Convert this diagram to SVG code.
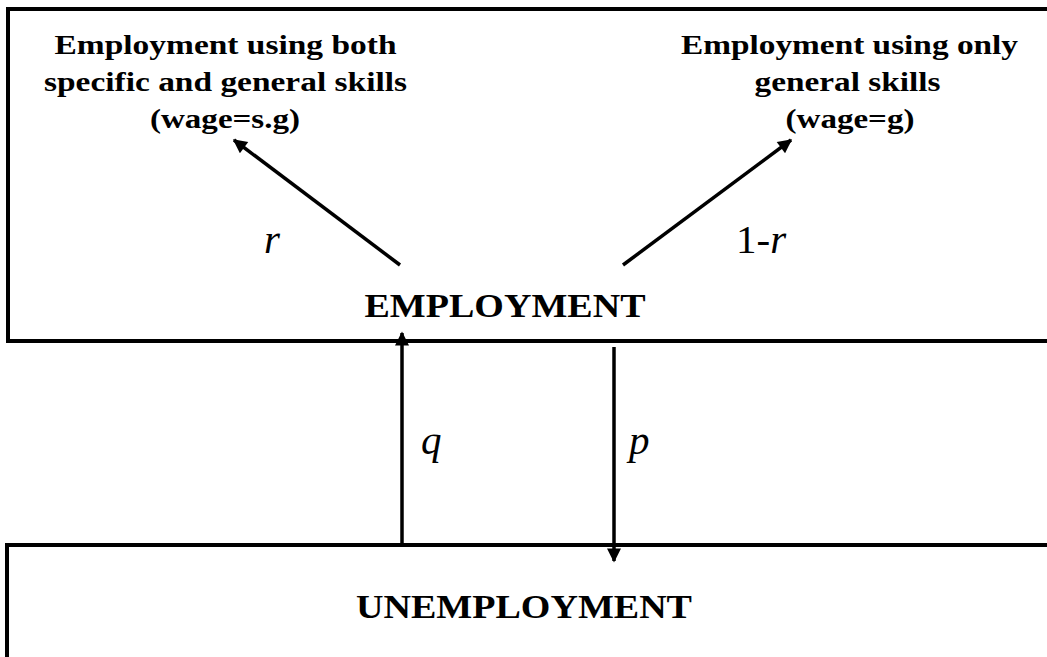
<svg xmlns="http://www.w3.org/2000/svg" width="1047" height="657" viewBox="0 0 1047 657">
<style>
.box{fill:none;stroke:#000;stroke-width:4}
.c{stroke:#000;stroke-width:3.5;fill:none}
.t{font-weight:bold;fill:#000;text-anchor:middle}
.lbl{font-size:41px;fill:#000}
</style>
<defs>
<marker id="ah" viewBox="0 0 10 10" refX="9" refY="5" markerWidth="4.5" markerHeight="4" orient="auto" markerUnits="strokeWidth">
<path d="M0,0 L10,5 L0,10 z" fill="#000"/>
</marker>
</defs>
<rect width="1047" height="657" fill="#fff"/>
<g font-family="'Liberation Serif', 'Times New Roman', Tinos, 'Nimbus Roman', 'Nimbus Roman No9 L', FreeSerif, 'Noto Serif', Times, serif">
<g id="employment">
<rect class="box" x="8" y="9" width="1060" height="332"/>
<text class="t" x="505" y="317" font-size="34" textLength="281" lengthAdjust="spacingAndGlyphs">EMPLOYMENT</text>
</g>
<g id="both-skills">
<text class="t" font-size="28">
<tspan x="229" y="54" textLength="342" lengthAdjust="spacingAndGlyphs">Employment using both</tspan>
<tspan x="229" y="91" textLength="363" lengthAdjust="spacingAndGlyphs">specific and general skills</tspan>
<tspan x="225" y="128" textLength="150" lengthAdjust="spacingAndGlyphs">(wage=s.g)</tspan>
</text>
</g>
<g id="general-skills">
<text class="t" font-size="28">
<tspan x="853" y="54" textLength="337" lengthAdjust="spacingAndGlyphs">Employment using only</tspan>
<tspan x="851" y="91" textLength="186" lengthAdjust="spacingAndGlyphs">general skills</tspan>
<tspan x="850" y="128" textLength="129" lengthAdjust="spacingAndGlyphs">(wage=g)</tspan>
</text>
</g>
<g id="unemployment">
<rect class="box" x="7" y="545" width="1060" height="130"/>
<text class="t" x="524" y="618" font-size="34" textLength="336" lengthAdjust="spacingAndGlyphs">UNEMPLOYMENT</text>
</g>
<g id="connectors">
<line class="c" x1="400" y1="265" x2="234" y2="140" marker-end="url(#ah)"/>
<line class="c" x1="623" y1="265" x2="791" y2="140" marker-end="url(#ah)"/>
<line class="c" x1="402" y1="545" x2="402" y2="333" marker-end="url(#ah)"/>
<line class="c" x1="614" y1="347" x2="614" y2="561" marker-end="url(#ah)"/>
<text class="lbl" x="264" y="253" font-style="italic">r</text>
<text class="lbl" x="736" y="253">1-<tspan font-style="italic">r</tspan></text>
<text class="lbl" x="421" y="454" font-style="italic">q</text>
<text class="lbl" x="629" y="454" font-style="italic">p</text>
</g>
</g>
</svg>
